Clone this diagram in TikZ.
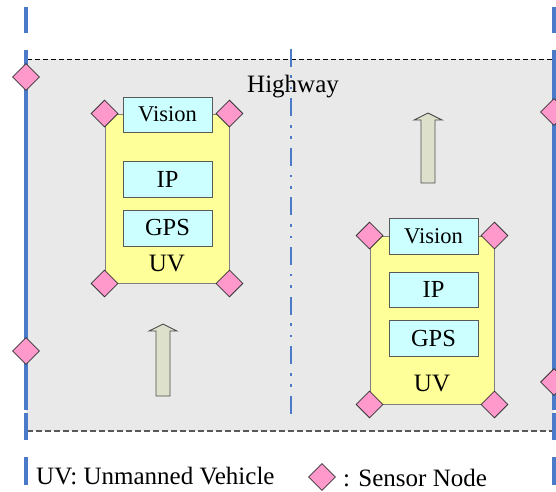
\documentclass[tikz,border=0pt]{standalone}
\usepackage{fontspec}
\setmainfont{Liberation Serif}
\usetikzlibrary{shapes.geometric}

\definecolor{lane}{RGB}{74,122,200}
\definecolor{road}{RGB}{233,233,233}
\definecolor{bodyyellow}{RGB}{255,255,153}
\definecolor{modulecyan}{RGB}{204,255,255}
\definecolor{sensorpink}{RGB}{255,153,204}
\definecolor{arrowfill}{RGB}{221,225,204}

\tikzset{
  txt/.style={font=\fontsize{25}{29}\selectfont, inner sep=0pt},
  vehicle/.style={draw=black!50, line width=0.9pt, fill=bodyyellow,
    minimum width=124pt, inner sep=0pt},
  module/.style={draw=black!65, line width=0.9pt, fill=modulecyan,
    minimum width=89pt, inner sep=0pt, font=\fontsize{24.5}{28}\selectfont},
  sensor/.style={diamond, draw=black!80, line width=0.8pt, fill=sensorpink,
    minimum width=27pt, minimum height=27pt, inner sep=0pt},
  laneline/.style={draw=lane, line width=3.2pt},
  centreline/.style={draw=lane, line width=2.6pt,
    dash pattern=on 18pt off 8.8pt on 2.6pt off 8.8pt on 2.6pt off 8.8pt},
  flowarrow/.style={draw=black!70, line width=0.9pt, fill=arrowfill},
}

\begin{document}
\begin{tikzpicture}[x=1pt, y=-1pt]
\useasboundingbox (0,0) rectangle (556,491);

% road surface and its dashed edges
\fill[road] (26,59) rectangle (554,431);
\draw[black, line width=0.8pt, dash pattern=on 5pt off 3pt] (27,59) -- (553,59);
\draw[black!65, line width=1.1pt, dash pattern=on 6pt off 3pt] (27,431) -- (553,431);

% outer lane lines
\foreach \lx in {26,554} {
  \draw[laneline] (\lx,7) -- (\lx,33);
  \draw[laneline] (\lx,50) -- (\lx,410);
  \draw[laneline] (\lx,412.5) -- (\lx,440);
  \draw[laneline] (\lx,457) -- (\lx,485);
}
% centre line
\draw[centreline] (291,48.5) -- (291,414);

% roadside sensors
\node[sensor] (s1) at (26,77) {};
\node[sensor] (s2) at (26,351) {};
\node[sensor] (s3) at (554,112) {};
\node[sensor] (s4) at (554,382) {};

\node[txt, anchor=base west] (hw) at (247,92) {Highway};

% first vehicle
\node[vehicle, minimum height=169pt] (uva) at (167,198.5) {};
\node[module, minimum height=35pt, font=\fontsize{22.5}{26}\selectfont] (visa) at (167.5,114.5) {Vision};
\node[module, minimum height=36pt] (ipa) at (167.5,179) {IP};
\node[module, minimum height=36pt] (gpsa) at (167.5,228) {GPS};
\node[txt] (uvla) at (167,263) {UV};
\node[sensor] (a1) at (uva.north west) {};
\node[sensor] (a2) at (uva.north east) {};
\node[sensor] (a3) at (uva.south west) {};
\node[sensor] (a4) at (uva.south east) {};

% second vehicle
\node[vehicle, minimum height=168pt] (uvb) at (432,320) {};
\node[module, minimum height=36pt, font=\fontsize{22.5}{26}\selectfont] (visb) at (433.5,236) {Vision};
\node[module, minimum height=35pt] (ipb) at (433.5,289.5) {IP};
\node[module, minimum height=36pt] (gpsb) at (433.5,338) {GPS};
\node[txt] (uvlb) at (432,383) {UV};
\node[sensor] (b1) at (uvb.north west) {};
\node[sensor] (b2) at (uvb.north east) {};
\node[sensor] (b3) at (uvb.south west) {};
\node[sensor] (b4) at (uvb.south east) {};

% driving direction
\draw[flowarrow] (421,183) -- (421,120) -- (414,120) -- (428,113) -- (442,120)
  -- (435,120) -- (435,183) -- cycle;
\draw[flowarrow] (156,396) -- (156,331) -- (149,331) -- (163,324) -- (177,331)
  -- (170,331) -- (170,396) -- cycle;

% legend
\node[txt, anchor=base west] (lg1) at (36,484) {UV: Unmanned Vehicle};
\node[sensor] (lgs) at (322,477) {};
\node[txt, anchor=base west] (lg2) at (343,486) {: Sensor Node};
\end{tikzpicture}
\end{document}
